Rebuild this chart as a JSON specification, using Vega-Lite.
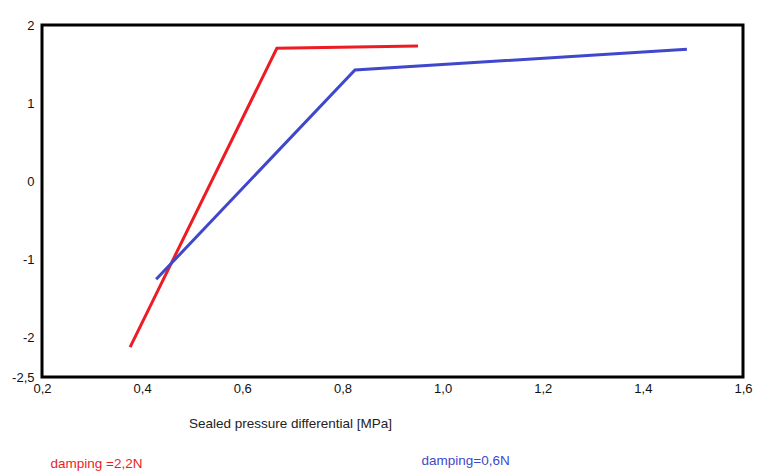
{
  "$schema": "https://vega.github.io/schema/vega-lite/v6.json",
  "width": 701,
  "height": 352,
  "autosize": "none",
  "padding": {"left": 42, "top": 25, "right": 16, "bottom": 95},
  "background": "white",
  "config": {
    "view": {"stroke": "black", "strokeWidth": 3},
    "font": "Liberation Sans"
  },
  "data": {
    "values": [
      {"series": "damping =2,2N", "x": 0.376, "y": -2.117},
      {"series": "damping =2,2N", "x": 0.669, "y": 1.702},
      {"series": "damping =2,2N", "x": 0.951, "y": 1.732},
      {"series": "damping=0,6N", "x": 0.428, "y": -1.251},
      {"series": "damping=0,6N", "x": 0.825, "y": 1.425},
      {"series": "damping=0,6N", "x": 1.488, "y": 1.689}
    ]
  },
  "mark": {"type": "line", "strokeWidth": 3, "clip": true},
  "encoding": {
    "x": {
      "field": "x",
      "type": "quantitative",
      "scale": {"domain": [0.2, 1.6], "nice": false, "zero": false},
      "axis": {
        "title": "Sealed pressure differential [MPa]",
        "titleFont": "Liberation Sans",
        "titleFontSize": 13.5,
        "titleFontWeight": "normal",
        "titleColor": "#222222",
        "titleX": 248,
        "titleY": 46,
        "titleBaseline": "middle",
        "titleAlign": "center",
        "values": [0.2, 0.4, 0.6, 0.8, 1.0, 1.2, 1.4, 1.6],
        "labelExpr": "replace(format(datum.value, '.1f'), '.', ',')",
        "labelFontSize": 13,
        "labelColor": "#111111",
        "labelPadding": 5,
        "labelFlush": false,
        "labelOverlap": false,
        "domain": false,
        "ticks": false,
        "grid": false,
        "encode": {
          "labels": {
            "update": {
              "align": {"signal": "datum.value < 0.3 || datum.value > 1.5 ? 'left' : 'center'"}
            }
          }
        }
      }
    },
    "y": {
      "field": "y",
      "type": "quantitative",
      "scale": {"domain": [-2.5, 2], "nice": false, "zero": false},
      "axis": {
        "title": null,
        "values": [-2.5, -2, -1, 0, 1, 2],
        "labelExpr": "replace(toString(datum.value), '.', ',')",
        "labelFontSize": 13,
        "labelColor": "#111111",
        "labelPadding": 8,
        "labelFlush": false,
        "labelOverlap": false,
        "domain": false,
        "ticks": false,
        "grid": false
      }
    },
    "color": {
      "field": "series",
      "type": "nominal",
      "scale": {"domain": ["damping =2,2N", "damping=0,6N"], "range": ["#ed1c24", "#3f48cc"]},
      "legend": {
        "title": null,
        "orient": "none",
        "direction": "horizontal",
        "legendX": -5,
        "legendY": 432,
        "padding": 0,
        "symbolSize": 0,
        "symbolStrokeWidth": 0,
        "symbolOpacity": 0,
        "labelOffset": 0,
        "labelFontSize": 13.5,
        "columnPadding": 265,
        "encode": {
          "labels": {
            "update": {
              "fill": {"scale": "color", "field": "value"},
              "dy": {"signal": "datum.index == 1 ? -6 : 0"}
            }
          }
        }
      }
    }
  }
}
